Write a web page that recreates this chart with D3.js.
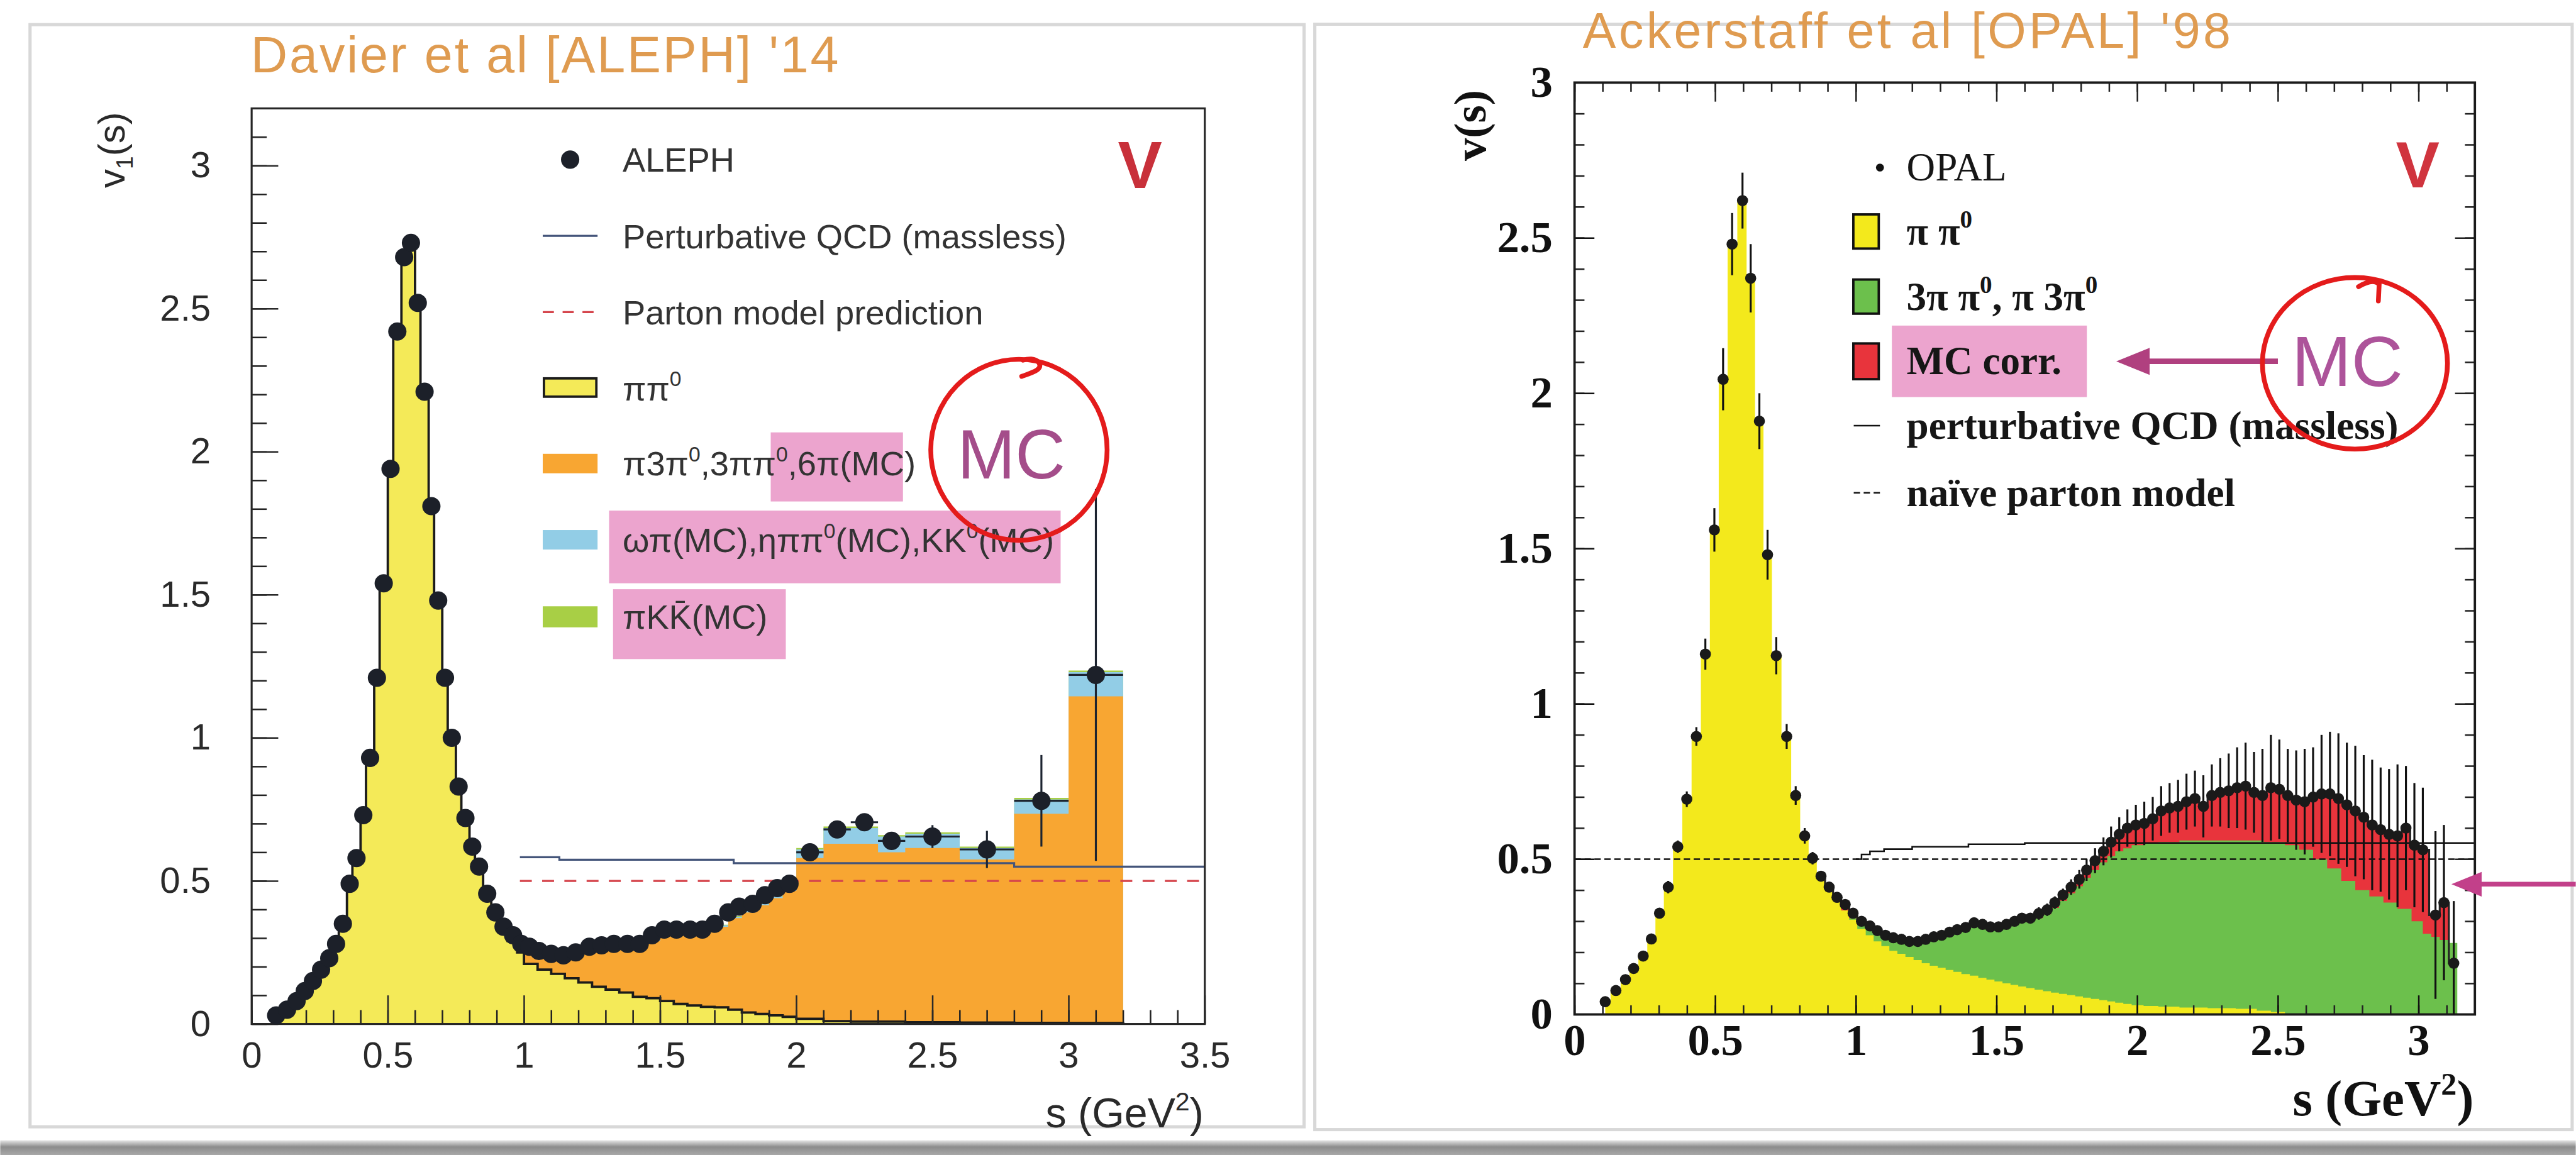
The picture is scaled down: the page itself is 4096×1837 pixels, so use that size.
<!DOCTYPE html>
<html>
<head>
<meta charset="utf-8">
<script src="https://cdn.jsdelivr.net/npm/d3@7"></script>
<style>
  body { margin: 0; background: #fff; overflow: hidden; }
</style>
</head>
<body>
<script>
// ---------------- data: ALEPH (Davier et al '14) ----------------
// [s, v, yErr, xHalfWidth]
const alephPoints = [
  [0.09,0.03,0.01,0],[0.13,0.05,0.01,0],[0.165,0.08,0.01,0],[0.195,0.115,0.01,0],[0.225,0.15,0.01,0],
  [0.255,0.19,0.01,0],[0.285,0.23,0.01,0],[0.31,0.28,0.01,0],[0.335,0.35,0.01,0],[0.36,0.49,0.01,0],
  [0.385,0.58,0.01,0],[0.41,0.73,0.01,0],[0.435,0.93,0.02,0],[0.46,1.21,0.02,0],[0.485,1.54,0.02,0],
  [0.51,1.94,0.02,0],[0.535,2.42,0.03,0],[0.56,2.68,0.03,0],[0.585,2.73,0.03,0],[0.61,2.52,0.03,0],
  [0.635,2.21,0.03,0],[0.66,1.81,0.02,0],[0.685,1.48,0.02,0],[0.71,1.21,0.02,0],[0.735,1.00,0.02,0],
  [0.76,0.83,0.01,0],[0.785,0.72,0.01,0],[0.81,0.62,0.01,0],[0.835,0.55,0.01,0],[0.865,0.455,0.01,0],
  [0.895,0.39,0.01,0],[0.925,0.34,0.01,0],[0.96,0.31,0.01,0],[0.99,0.28,0.01,0],[1.02,0.27,0.01,0],
  [1.055,0.255,0.01,0],[1.10,0.245,0.01,0],[1.145,0.24,0.01,0],[1.19,0.25,0.01,0],[1.24,0.27,0.01,0],
  [1.285,0.275,0.01,0],[1.33,0.28,0.01,0],[1.38,0.28,0.01,0],[1.425,0.28,0.01,0],[1.47,0.31,0.01,0],
  [1.515,0.33,0.01,0],[1.56,0.33,0.01,0],[1.61,0.33,0.01,0],[1.655,0.33,0.01,0],[1.70,0.35,0.01,0],
  [1.75,0.39,0.01,0],[1.79,0.41,0.01,0],[1.84,0.42,0.01,0],[1.885,0.45,0.01,0],[1.93,0.475,0.01,0],
  [1.975,0.49,0.01,0],
  [2.05,0.60,0.02,0.05],[2.15,0.68,0.025,0.05],[2.25,0.705,0.025,0.05],[2.35,0.64,0.03,0.05],
  [2.50,0.655,0.04,0.1],[2.70,0.61,0.065,0.1],[2.90,0.78,0.16,0.1],[3.10,1.22,0.65,0.1]
];
const alephPiPiEdges = [0.075,0.11,0.15,0.18,0.21,0.24,0.27,0.30,0.32,0.35,0.37,0.40,0.42,0.45,0.47,0.50,
  0.52,0.55,0.57,0.60,0.62,0.65,0.67,0.70,0.72,0.75,0.77,0.80,0.82,0.85,0.88,0.91,0.94,0.975,1.0,1.05,1.1,
  1.15,1.2,1.25,1.3,1.35,1.4,1.45,1.5,1.55,1.6,1.65,1.7,1.75,1.8,1.85,1.9,1.95,2.0,2.1,2.2,2.4,2.6,2.8,3.0,3.2];
const alephPiPiVals = [0.03,0.05,0.08,0.115,0.15,0.19,0.23,0.28,0.35,0.49,0.58,0.73,0.93,1.21,1.54,1.94,
  2.42,2.68,2.72,2.52,2.21,1.81,1.48,1.21,1.00,0.83,0.72,0.62,0.54,0.45,0.38,0.33,0.29,0.25,0.21,0.19,0.175,
  0.16,0.145,0.13,0.12,0.11,0.095,0.09,0.08,0.07,0.065,0.06,0.058,0.05,0.04,0.035,0.03,0.025,0.018,0.01,
  0.008,0.006,0.005,0.004,0.003];
const alephMcEdges = [1.0,1.05,1.1,1.15,1.2,1.25,1.3,1.35,1.4,1.45,1.5,1.55,1.6,1.65,1.7,1.75,1.8,1.85,1.9,
  1.95,2.0,2.1,2.2,2.3,2.4,2.6,2.8,3.0,3.2];
// cumulative tops of the stacked MC contributions
const alephOrangeTop = [0.25,0.24,0.235,0.235,0.25,0.26,0.265,0.265,0.27,0.29,0.31,0.315,0.315,0.32,0.34,
  0.37,0.39,0.415,0.44,0.465,0.58,0.63,0.63,0.60,0.615,0.575,0.735,1.145];
const alephBlueTop = [0.255,0.245,0.24,0.24,0.255,0.265,0.27,0.27,0.275,0.295,0.315,0.32,0.32,0.325,0.345,
  0.375,0.395,0.42,0.445,0.47,0.61,0.685,0.685,0.655,0.665,0.615,0.785,1.23];
const alephGreenTop = [0.257,0.247,0.242,0.242,0.257,0.267,0.272,0.272,0.277,0.297,0.317,0.322,0.322,0.327,
  0.347,0.377,0.397,0.422,0.447,0.472,0.615,0.69,0.69,0.66,0.67,0.62,0.79,1.235];
const alephQcd = [[0.985,0.583],[1.13,0.574],[1.77,0.562],[2.8,0.55],[3.5,0.55]];
const alephParton = [[0.985,0.5],[3.5,0.5]];

// ---------------- data: OPAL (Ackerstaff et al '98) ----------------
// [s, v, yErr]
const opalPoints = [
  [0.109,0.041,0.008],[0.147,0.077,0.01],[0.181,0.112,0.01],[0.21,0.148,0.012],[0.244,0.188,0.012],
  [0.273,0.243,0.015],[0.302,0.326,0.015],[0.333,0.41,0.02],[0.367,0.54,0.02],[0.399,0.693,0.025],
  [0.433,0.895,0.03],[0.465,1.16,0.05],[0.497,1.56,0.07],[0.528,2.045,0.1],[0.56,2.48,0.1],
  [0.597,2.62,0.09],[0.626,2.37,0.11],[0.657,1.91,0.09],[0.686,1.48,0.08],[0.717,1.155,0.06],
  [0.754,0.895,0.04],[0.786,0.705,0.03],[0.818,0.575,0.025],[0.846,0.503,0.02],[0.876,0.445,0.015],
  [0.905,0.41,0.015],[0.933,0.377,0.015],[0.962,0.354,0.015],[0.99,0.326,0.015],[1.02,0.30,0.015],
  [1.05,0.285,0.015],[1.076,0.27,0.015],[1.105,0.255,0.015],[1.133,0.247,0.015],[1.162,0.242,0.015],
  [1.19,0.235,0.015],[1.22,0.235,0.015],[1.248,0.242,0.015],[1.277,0.25,0.015],[1.305,0.255,0.015],
  [1.333,0.265,0.015],[1.36,0.273,0.015],[1.39,0.28,0.015],[1.42,0.295,0.015],[1.45,0.29,0.015],
  [1.478,0.282,0.015],[1.507,0.282,0.015],[1.535,0.29,0.015],[1.564,0.30,0.015],[1.59,0.31,0.015],
  [1.62,0.31,0.015],[1.65,0.325,0.02],[1.68,0.337,0.02],[1.707,0.36,0.02],[1.736,0.385,0.02],
  [1.765,0.41,0.025],[1.794,0.435,0.03],[1.82,0.465,0.035],[1.85,0.495,0.04],[1.88,0.525,0.045],
  [1.907,0.555,0.05],[1.936,0.58,0.055],[1.965,0.60,0.06],[1.995,0.61,0.065],[2.025,0.615,0.07],
  [2.055,0.63,0.07],[2.085,0.655,0.08],[2.115,0.665,0.08],[2.145,0.67,0.085],[2.175,0.685,0.09],
  [2.205,0.695,0.09],[2.235,0.67,0.1],[2.265,0.705,0.1],[2.295,0.715,0.11],[2.325,0.72,0.12],
  [2.355,0.73,0.13],[2.385,0.735,0.14],[2.415,0.715,0.13],[2.445,0.705,0.15],[2.475,0.73,0.17],
  [2.505,0.725,0.16],[2.535,0.705,0.15],[2.565,0.69,0.16],[2.595,0.685,0.17],[2.625,0.70,0.16],
  [2.655,0.71,0.19],[2.685,0.71,0.2],[2.715,0.695,0.21],[2.745,0.675,0.2],[2.775,0.655,0.21],
  [2.805,0.635,0.2],[2.835,0.61,0.21],[2.865,0.595,0.2],[2.895,0.58,0.21],[2.925,0.575,0.23],
  [2.955,0.60,0.2],[2.985,0.545,0.2],[3.015,0.53,0.2],[3.06,0.32,0.27],[3.09,0.36,0.25],[3.125,0.165,0.2]
];
const opalPiPi = [[0.109,0.041],[0.147,0.077],[0.181,0.112],[0.21,0.148],[0.244,0.188],[0.273,0.243],
  [0.302,0.326],[0.333,0.41],[0.367,0.54],[0.399,0.693],[0.433,0.895],[0.465,1.16],[0.497,1.56],
  [0.528,2.045],[0.56,2.48],[0.597,2.62],[0.626,2.37],[0.657,1.91],[0.686,1.48],[0.717,1.155],
  [0.754,0.895],[0.786,0.705],[0.818,0.575],[0.846,0.503],[0.876,0.44],[0.905,0.40],[0.933,0.365],
  [0.962,0.335],[0.99,0.305],[1.02,0.275],[1.05,0.255],[1.076,0.235],[1.105,0.22],[1.133,0.205],
  [1.162,0.195],[1.19,0.185],[1.22,0.175],[1.248,0.165],[1.277,0.157],[1.305,0.15],[1.333,0.143],
  [1.36,0.137],[1.39,0.13],[1.42,0.125],[1.45,0.118],[1.478,0.112],[1.507,0.106],[1.535,0.10],
  [1.564,0.095],[1.59,0.09],[1.62,0.085],[1.65,0.08],[1.68,0.075],[1.707,0.07],[1.736,0.066],
  [1.765,0.062],[1.794,0.058],[1.82,0.054],[1.85,0.05],[1.88,0.046],[1.907,0.042],[1.936,0.038],
  [1.965,0.034],[1.995,0.03],[2.05,0.027],[2.1,0.025],[2.2,0.022],[2.3,0.02],[2.4,0.018],[2.45,0.012],
  [2.5,0.008],[2.55,0.0]];
// cumulative top of pi pi0 + multi-pion
const opalMultiPi = [[0.96,0.33],[0.99,0.31],[1.02,0.29],[1.05,0.275],[1.076,0.262],[1.105,0.248],
  [1.133,0.24],[1.162,0.235],[1.19,0.228],[1.22,0.228],[1.248,0.235],[1.277,0.242],[1.305,0.247],
  [1.333,0.256],[1.36,0.263],[1.39,0.27],[1.42,0.285],[1.45,0.28],[1.478,0.272],[1.507,0.272],
  [1.535,0.28],[1.564,0.29],[1.59,0.298],[1.62,0.298],[1.65,0.31],[1.68,0.322],[1.707,0.343],
  [1.736,0.366],[1.765,0.39],[1.794,0.413],[1.82,0.44],[1.85,0.465],[1.88,0.49],[1.907,0.51],
  [1.936,0.525],[1.965,0.535],[1.995,0.545],[2.05,0.55],[2.1,0.555],[2.2,0.56],[2.3,0.56],[2.4,0.56],
  [2.5,0.555],[2.55,0.545],[2.6,0.53],[2.65,0.50],[2.7,0.47],[2.75,0.43],[2.8,0.40],[2.85,0.38],
  [2.9,0.36],[2.95,0.34],[3.0,0.30],[3.03,0.26],[3.06,0.25],[3.09,0.24],[3.125,0.23],[3.15,0.0]];
const opalQcd = [[1.0,0.5],[1.02,0.515],[1.05,0.525],[1.1,0.532],[1.2,0.54],[1.4,0.548],[1.6,0.552],[3.2,0.552]];
const opalParton = [[0,0.5],[3.2,0.5]];

const majorA = [0, 0.5, 1, 1.5, 2, 2.5, 3, 3.5];
const majorAy = [0, 0.5, 1, 1.5, 2, 2.5, 3];
const majorO = [0, 0.5, 1, 1.5, 2, 2.5, 3];

// ---------------- setup ----------------
const W = 6485, H = 2909;
const SANS = "'Liberation Sans', Arial, Helvetica, sans-serif";
const SERIF = "'Liberation Serif', 'Times New Roman', serif";

const svg = d3.select("body").append("svg")
  .attr("width", 4096).attr("height", 1837)
  .attr("viewBox", `0 0 ${W} ${H}`);

const defs = svg.append("defs");
const shade = defs.append("linearGradient").attr("id", "shade").attr("x1", 0).attr("x2", 0).attr("y1", 0).attr("y2", 1);
shade.append("stop").attr("offset", 0).attr("stop-color", "#e6e6e6");
shade.append("stop").attr("offset", 0.45).attr("stop-color", "#8c8c8c");
shade.append("stop").attr("offset", 1).attr("stop-color", "#a8a8a8");

svg.append("rect").attr("width", W).attr("height", H).attr("fill", "#fff");
svg.append("rect").attr("x", 0).attr("y", 2872).attr("width", W).attr("height", H - 2872).attr("fill", "url(#shade)");
// slide frames
svg.append("rect").attr("x", 75).attr("y", 62).attr("width", 3208).attr("height", 2776)
  .attr("fill", "#fff").attr("stroke", "#d8d8d8").attr("stroke-width", 8);
svg.append("rect").attr("x", 3310).attr("y", 61).attr("width", 3166).attr("height", 2784)
  .attr("fill", "#fff").attr("stroke", "#d8d8d8").attr("stroke-width", 8);

function richText(g, x, y, parts, size) {
  const t = g.append("text").attr("x", x).attr("y", y).attr("font-size", size);
  let shift = 0;
  parts.forEach(p => {
    let target = 0, s = p, fs = size;
    if (p[0] === "^") { target = -0.42 * size; s = p.slice(1); fs = size * 0.62; }
    else if (p[0] === "_") { target = 0.22 * size; s = p.slice(1); fs = size * 0.62; }
    t.append("tspan").attr("font-size", fs).attr("dy", target - shift).text(s);
    shift = target;
  });
  return t;
}

function axis(g, orient, scale, at, values, len, opts) {
  const make = { bottom: d3.axisBottom, top: d3.axisTop, left: d3.axisLeft, right: d3.axisRight }[orient];
  const gen = make(scale).tickValues(values).tickSize(-len).tickPadding(opts.pad || 0)
    .tickFormat(opts.labels ? (d => String(d)) : "");
  const tr = (orient === "bottom" || orient === "top") ? `translate(0,${at})` : `translate(${at},0)`;
  const a = g.append("g").attr("transform", tr).call(gen)
    .attr("font-family", opts.font).attr("font-size", opts.fs || 10)
    .attr("font-weight", opts.weight || "normal").style("color", opts.color || "#222");
  a.select(".domain").remove();
  a.selectAll("line").attr("stroke-width", opts.sw || 4);
  return a;
}

function stepPairs(edges, vals) {
  return vals.map((v, i) => [edges[i], v]).concat([[edges[edges.length - 1], vals[vals.length - 1]]]);
}

// ---------------- left panel: ALEPH ----------------
const gA = svg.append("g");
const xA = d3.scaleLinear().domain([0, 3.5]).range([633, 3033]);
const yA = d3.scaleLinear().domain([0, 3.2]).range([2579, 273]);

gA.append("text").attr("x", 631).attr("y", 182).attr("font-family", SANS).attr("font-size", 128)
  .attr("fill", "#df9b50").attr("textLength", 1480).attr("lengthAdjust", "spacing")
  .text("Davier et al [ALEPH] '14");

const areaA = d3.area().curve(d3.curveStepAfter).x(d => xA(d[0])).y0(yA(0)).y1(d => yA(d[1]));
gA.append("path").datum(stepPairs(alephMcEdges, alephGreenTop)).attr("d", areaA).attr("fill", "#a8cf45");
gA.append("path").datum(stepPairs(alephMcEdges, alephBlueTop)).attr("d", areaA).attr("fill", "#92cde6");
gA.append("path").datum(stepPairs(alephMcEdges, alephOrangeTop)).attr("d", areaA).attr("fill", "#f8a632");
const ppA = stepPairs(alephPiPiEdges, alephPiPiVals);
gA.append("path").datum(ppA).attr("d", areaA).attr("fill", "#f4ea58");
const lineA = d3.line().curve(d3.curveStepAfter).x(d => xA(d[0])).y(d => yA(d[1]));
gA.append("path").datum([[ppA[0][0], 0]].concat(ppA, [[ppA[ppA.length - 1][0], 0]]))
  .attr("d", lineA).attr("fill", "none").attr("stroke", "#1b1b1b").attr("stroke-width", 6);

gA.append("path").datum(alephQcd).attr("d", lineA).attr("fill", "none")
  .attr("stroke", "#44557a").attr("stroke-width", 5);
gA.append("path").datum(alephParton).attr("d", d3.line().x(d => xA(d[0])).y(d => yA(d[1])))
  .attr("fill", "none").attr("stroke", "#d5454c").attr("stroke-width", 5).attr("stroke-dasharray", "30,26");

// axes (ticks point inward, only on bottom and left)
axis(gA, "bottom", xA, yA(0), d3.range(0, 3.501, 0.1), 35, { labels: false });
axis(gA, "bottom", xA, yA(0), majorA, 72, { labels: true, pad: 45, font: SANS, fs: 92, color: "#2a2a2a" });
axis(gA, "left", yA, xA(0), d3.range(0, 3.101, 0.1), 38, { labels: false });
axis(gA, "left", yA, xA(0), majorAy, 67, { labels: true, pad: 103, font: SANS, fs: 92, color: "#2a2a2a" });
gA.append("rect").attr("x", xA(0)).attr("y", yA(3.2)).attr("width", xA(3.5) - xA(0)).attr("height", yA(0) - yA(3.2))
  .attr("fill", "none").attr("stroke", "#262626").attr("stroke-width", 5);

// error bars and points
const eA = gA.append("g").attr("stroke", "#1d2430").attr("stroke-width", 5);
alephPoints.forEach(p => {
  eA.append("line").attr("x1", xA(p[0])).attr("x2", xA(p[0])).attr("y1", yA(p[1] - p[2])).attr("y2", yA(p[1] + p[2]));
  if (p[3] > 0) eA.append("line").attr("x1", xA(p[0] - p[3])).attr("x2", xA(p[0] + p[3])).attr("y1", yA(p[1])).attr("y2", yA(p[1]));
});
gA.append("g").selectAll("circle").data(alephPoints).join("circle")
  .attr("cx", d => xA(d[0])).attr("cy", d => yA(d[1])).attr("r", 23).attr("fill", "#1c2029");

// axis titles
const tA = gA.append("g").attr("font-family", SANS).attr("fill", "#2a2a2a");
richText(tA, 3030, 2840, ["s (GeV", "^2", ")"], 105).attr("text-anchor", "end");
richText(tA, 0, 0, ["v", "_1", "(s)"], 95).attr("text-anchor", "middle").attr("transform", "translate(313,378) rotate(-90)");

// legend
const lA = gA.append("g").attr("font-family", SANS).attr("fill", "#333");
lA.append("rect").attr("x", 1940).attr("y", 1089).attr("width", 333).attr("height", 174).attr("fill", "#eca4ce");
lA.append("rect").attr("x", 1533).attr("y", 1286).attr("width", 1137).attr("height", 183).attr("fill", "#eca4ce");
lA.append("rect").attr("x", 1543).attr("y", 1484).attr("width", 435).attr("height", 176).attr("fill", "#eca4ce");
lA.append("circle").attr("cx", 1435).attr("cy", 402).attr("r", 23).attr("fill", "#1c2029");
lA.append("line").attr("x1", 1366).attr("x2", 1504).attr("y1", 594).attr("y2", 594).attr("stroke", "#44557a").attr("stroke-width", 5);
lA.append("line").attr("x1", 1366).attr("x2", 1504).attr("y1", 786).attr("y2", 786).attr("stroke", "#d5454c")
  .attr("stroke-width", 5).attr("stroke-dasharray", "28,22");
lA.append("rect").attr("x", 1369).attr("y", 953).attr("width", 132).attr("height", 46).attr("fill", "#f4ea58")
  .attr("stroke", "#1b1b1b").attr("stroke-width", 6);
lA.append("rect").attr("x", 1366).attr("y", 1143).attr("width", 138).attr("height", 49).attr("fill", "#f8a632");
lA.append("rect").attr("x", 1366).attr("y", 1335).attr("width", 138).attr("height", 49).attr("fill", "#92cde6");
lA.append("rect").attr("x", 1366).attr("y", 1527).attr("width", 138).attr("height", 53).attr("fill", "#a8cf45");
const lfs = 86, lb = 0.36 * lfs;
richText(lA, 1567, 402 + lb, ["ALEPH"], lfs);
richText(lA, 1567, 594 + lb, ["Perturbative QCD (massless)"], lfs);
richText(lA, 1567, 786 + lb, ["Parton model prediction"], lfs);
richText(lA, 1567, 978 + lb, ["ππ", "^0"], lfs);
richText(lA, 1567, 1167 + lb, ["π3π", "^0", ",3ππ", "^0", ",6π(MC)"], lfs);
richText(lA, 1567, 1360 + lb, ["ωπ(MC),ηππ", "^0", "(MC),KK", "^0", "(MC)"], lfs);
richText(lA, 1567, 1553 + lb, ["πKK\u0304(MC)"], lfs);

gA.append("text").attr("x", 2870).attr("y", 473).attr("text-anchor", "middle").attr("font-family", SANS)
  .attr("font-weight", "bold").attr("font-size", 167).attr("fill", "#c8303a").text("V");
gA.append("text").attr("x", 2546).attr("y", 1205).attr("text-anchor", "middle").attr("font-family", SANS)
  .attr("font-size", 175).attr("fill", "#a44d8a").text("MC");
gA.append("ellipse").attr("cx", 2565).attr("cy", 1133).attr("rx", 222).attr("ry", 228)
  .attr("fill", "none").attr("stroke", "#e41b1b").attr("stroke-width", 12);
gA.append("path").attr("d", "M2572,948 C2600,938 2628,930 2614,912 C2606,902 2588,903 2575,907")
  .attr("fill", "none").attr("stroke", "#e41b1b").attr("stroke-width", 12).attr("stroke-linecap", "round");

// ---------------- right panel: OPAL ----------------
const gO = svg.append("g");
const xO = d3.scaleLinear().domain([0, 3.2]).range([3964, 6231]);
const yO = d3.scaleLinear().domain([0, 3]).range([2555, 208]);

gO.append("text").attr("x", 3985).attr("y", 121).attr("font-family", SANS).attr("font-size", 125)
  .attr("fill", "#df9b50").attr("textLength", 1631).attr("lengthAdjust", "spacing")
  .text("Ackerstaff et al [OPAL] '98");

const areaO = d3.area().curve(d3.curveStep).x(d => xO(d[0])).y0(yO(0)).y1(d => yO(d[1]));
const lineO = d3.line().curve(d3.curveStep).x(d => xO(d[0])).y(d => yO(d[1]));
const totalO = opalPoints.filter(p => p[0] >= 0.93).map(p => [p[0], p[1]]);
gO.append("path").datum(totalO).attr("d", areaO).attr("fill", "#e8343c");
gO.append("path").datum(opalMultiPi).attr("d", areaO).attr("fill", "#6cc04c");
gO.append("path").datum(opalPiPi).attr("d", areaO).attr("fill", "#f3e91c");
gO.append("path").datum(opalPoints.filter(p => p[0] >= 0.85).map(p => [p[0], p[1]])).attr("d", lineO)
  .attr("fill", "none").attr("stroke", "#222").attr("stroke-width", 5);

gO.append("path").datum(opalQcd).attr("d", d3.line().curve(d3.curveStepAfter).x(d => xO(d[0])).y(d => yO(d[1])))
  .attr("fill", "none").attr("stroke", "#111").attr("stroke-width", 4);
gO.append("path").datum(opalParton).attr("d", d3.line().x(d => xO(d[0])).y(d => yO(d[1])))
  .attr("fill", "none").attr("stroke", "#111").attr("stroke-width", 4).attr("stroke-dasharray", "16,9");

// ticks on all four sides
const minO = d3.range(0, 3.201, 0.1), minOy = d3.range(0, 3.001, 0.1);
axis(gO, "bottom", xO, yO(0), minO, 23, { labels: false });
axis(gO, "bottom", xO, yO(0), majorO, 48, { labels: true, pad: 23, font: SERIF, fs: 112, weight: "bold", color: "#111" });
axis(gO, "top", xO, yO(3), minO, 23, { labels: false });
axis(gO, "top", xO, yO(3), majorO, 48, { labels: false });
axis(gO, "left", yO, xO(0), minOy, 25, { labels: false });
axis(gO, "left", yO, xO(0), majorO, 50, { labels: true, pad: 55, font: SERIF, fs: 112, weight: "bold", color: "#111" });
axis(gO, "right", yO, xO(3.2), minOy, 25, { labels: false });
axis(gO, "right", yO, xO(3.2), majorO, 50, { labels: false });
gO.append("rect").attr("x", xO(0)).attr("y", yO(3)).attr("width", xO(3.2) - xO(0)).attr("height", yO(0) - yO(3))
  .attr("fill", "none").attr("stroke", "#1a1a1a").attr("stroke-width", 6);

const eO = gO.append("g").attr("stroke", "#111").attr("stroke-width", 5);
opalPoints.forEach(p => {
  eO.append("line").attr("x1", xO(p[0])).attr("x2", xO(p[0])).attr("y1", yO(Math.max(0, p[1] - p[2]))).attr("y2", yO(p[1] + p[2]));
});
gO.append("g").selectAll("circle").data(opalPoints).join("circle")
  .attr("cx", d => xO(d[0])).attr("cy", d => yO(d[1])).attr("r", 14).attr("fill", "#1a1a1a");

const tO = gO.append("g").attr("font-family", SERIF).attr("font-weight", "bold").attr("fill", "#111");
richText(tO, 6228, 2810, ["s (GeV", "^2", ")"], 128).attr("text-anchor", "end");
richText(tO, 0, 0, ["v(s)"], 115).attr("text-anchor", "middle").attr("transform", "translate(3740,316) rotate(-90)");

// legend
const lO = gO.append("g").attr("font-family", SERIF).attr("font-weight", "bold").attr("fill", "#161616");
lO.append("rect").attr("x", 4763).attr("y", 820).attr("width", 491).attr("height", 180).attr("fill", "#eca4ce");
lO.append("circle").attr("cx", 4733).attr("cy", 422).attr("r", 10).attr("fill", "#111");
lO.append("rect").attr("x", 4666).attr("y", 540).attr("width", 64).attr("height", 86).attr("fill", "#f3e91c").attr("stroke", "#111").attr("stroke-width", 6);
lO.append("rect").attr("x", 4666).attr("y", 704).attr("width", 64).attr("height", 86).attr("fill", "#6cc04c").attr("stroke", "#111").attr("stroke-width", 6);
lO.append("rect").attr("x", 4666).attr("y", 865).attr("width", 64).attr("height", 90).attr("fill", "#e8343c").attr("stroke", "#111").attr("stroke-width", 6);
lO.append("line").attr("x1", 4667).attr("x2", 4733).attr("y1", 1072).attr("y2", 1072).attr("stroke", "#111").attr("stroke-width", 4);
lO.append("line").attr("x1", 4667).attr("x2", 4733).attr("y1", 1241).attr("y2", 1241).attr("stroke", "#111")
  .attr("stroke-width", 4).attr("stroke-dasharray", "16,9");
const ofs = 100, ob = 0.33 * ofs;
richText(lO, 4800, 422 + ob, ["OPAL"], ofs).attr("font-weight", "normal");
richText(lO, 4800, 583 + ob, ["π π", "^0"], ofs);
richText(lO, 4800, 747 + ob, ["3π π", "^0", ", π 3π", "^0"], ofs);
richText(lO, 4800, 910 + ob, ["MC corr."], ofs);
richText(lO, 4800, 1072 + ob, ["perturbative QCD (massless)"], ofs);
richText(lO, 4800, 1241 + ob, ["naïve parton model"], ofs);

gO.append("text").attr("x", 6087).attr("y", 472).attr("text-anchor", "middle").attr("font-family", SANS)
  .attr("font-weight", "bold").attr("font-size", 165).attr("fill", "#d0343e").text("V");

// MC annotation with arrow
gO.append("line").attr("x1", 5735).attr("x2", 5400).attr("y1", 910).attr("y2", 910).attr("stroke", "#b0407f").attr("stroke-width", 14);
gO.append("polygon").attr("points", "5328,910 5412,876 5412,944").attr("fill", "#b0407f");
gO.append("text").attr("x", 5910).attr("y", 973).attr("text-anchor", "middle").attr("font-family", SANS)
  .attr("font-size", 180).attr("fill", "#ad539a").text("MC");
gO.append("ellipse").attr("cx", 5929).attr("cy", 915).attr("rx", 233).attr("ry", 216)
  .attr("fill", "none").attr("stroke", "#e41b1b").attr("stroke-width", 12);
gO.append("path").attr("d", "M5938,722 Q5975,700 5990,716 L5988,758")
  .attr("fill", "none").attr("stroke", "#e41b1b").attr("stroke-width", 12).attr("stroke-linecap", "round");

// arrow at right edge
svg.append("line").attr("x1", 6485).attr("x2", 6235).attr("y1", 2227).attr("y2", 2227).attr("stroke", "#c2408a").attr("stroke-width", 12);
svg.append("polygon").attr("points", "6172,2227 6248,2196 6248,2258").attr("fill", "#c2408a");
</script>
</body>
</html>
